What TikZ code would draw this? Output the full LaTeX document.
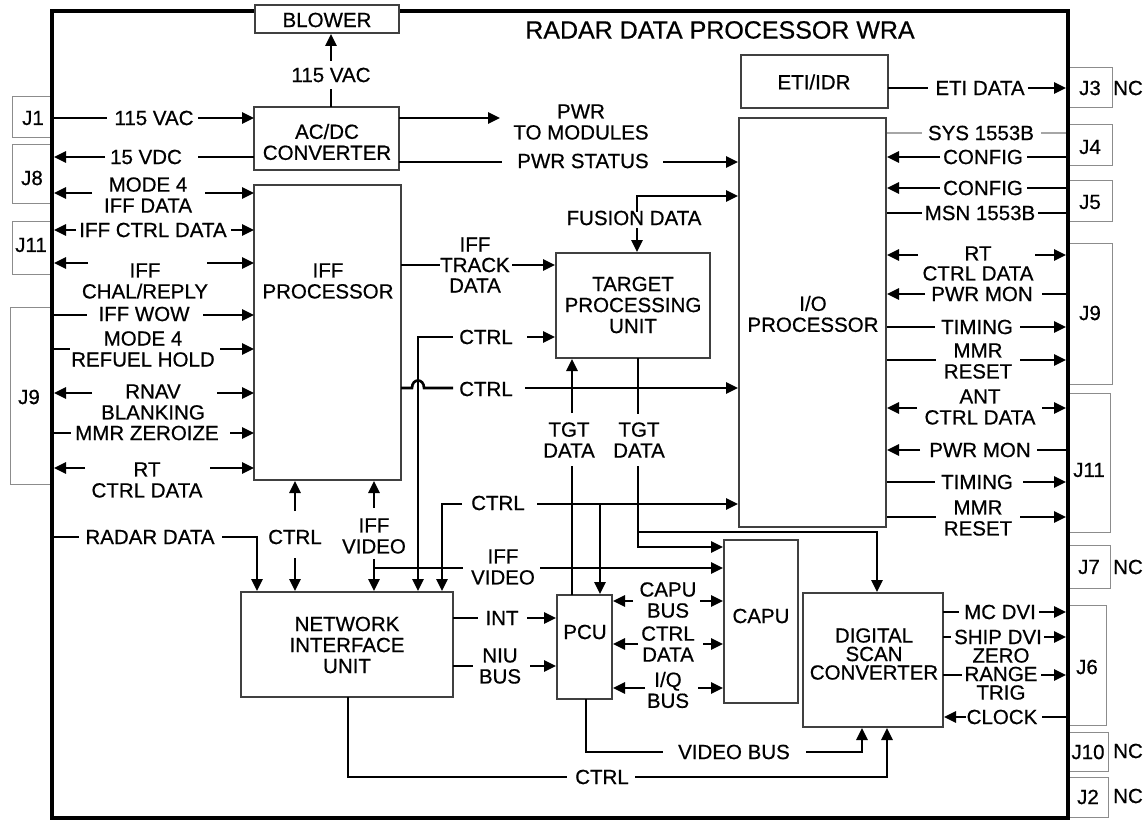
\documentclass[tikz,border=0pt]{standalone}
\usepackage{fontspec}
\setmainfont{Liberation Sans}[FakeBold=0.6]
\usetikzlibrary{arrows.meta}
\newcommand\lblfont{\fontsize{20.5}{21}\selectfont}
\newcommand\dscfont{\fontsize{20.5}{18.5}\selectfont}
\newcommand\ttlfont{\fontsize{25}{27}\selectfont}
\begin{document}
\begin{tikzpicture}[x=1pt,y=-1pt,
  conn/.style={line width=2.6pt,line join=miter},
  arr/.style={conn,-{Triangle[length=12pt,width=11pt]}},
  blk/.style={draw=black!75,line width=1.2pt,inner sep=0pt},
  jbox/.style={draw=black!45,line width=1pt,inner sep=0pt},
  lbl/.style={inner sep=0pt,align=center,font=\lblfont},
]
\useasboundingbox (0,0) rectangle (1148,821);
\fill[white] (0,0) rectangle (1148,821);

% ---------- connector boxes (outside frame)
\node[jbox,minimum width=40pt,minimum height=41pt] (j1) at (32,117.5) {};
\node[jbox,minimum width=40pt,minimum height=59pt] (j8) at (32,174.5) {};
\node[jbox,minimum width=40pt,minimum height=53pt] (j11l) at (32,247.5) {};
\node[jbox,minimum width=42pt,minimum height=177pt] (j9l) at (31,395.5) {};
\node[jbox,minimum width=44pt,minimum height=40pt] (j3) at (1090,88) {};
\node[jbox,minimum width=44pt,minimum height=41pt] (j4) at (1090,145.5) {};
\node[jbox,minimum width=44pt,minimum height=40pt] (j5) at (1090,201) {};
\node[jbox,minimum width=44pt,minimum height=141pt] (j9r) at (1090,313.5) {};
\node[jbox,minimum width=42pt,minimum height=139pt] (j11r) at (1089,462.5) {};
\node[jbox,minimum width=42pt,minimum height=43pt] (j7) at (1089,566.5) {};
\node[jbox,minimum width=38pt,minimum height=120pt] (j6) at (1087,665) {};
\node[jbox,minimum width=40pt,minimum height=39pt] (j10) at (1088,751.5) {};
\node[jbox,minimum width=40pt,minimum height=40pt] (j2) at (1088,797) {};

\node[lbl] (tj1) at (33,118) {J1};
\node[lbl] (tj8) at (32,178) {J8};
\node[lbl] (tj11l) at (31,245) {J11};
\node[lbl] (tj9l) at (29,397) {J9};
\node[lbl] (tj3) at (1090,88) {J3};
\node[lbl] (nc3) at (1128,88) {NC};
\node[lbl] (tj4) at (1090,147) {J4};
\node[lbl] (tj5) at (1090,202) {J5};
\node[lbl] (tj9r) at (1090,313) {J9};
\node[lbl] (tj11r) at (1089,470) {J11};
\node[lbl] (tj7) at (1089,567) {J7};
\node[lbl] (nc7) at (1128,567) {NC};
\node[lbl] (tj6) at (1087,667) {J6};
\node[lbl] (tj10) at (1088,752) {J10};
\node[lbl] (nc10) at (1128,751) {NC};
\node[lbl] (tj2) at (1088,797) {J2};
\node[lbl] (nc2) at (1128,796) {NC};

% ---------- WRA frame
\draw[line width=3.5pt] (52,11) rectangle (1068,818);
\node[font=\ttlfont,inner sep=0pt] (title) at (720,30) {RADAR DATA PROCESSOR WRA};

% ---------- module boxes
\node[blk,fill=white,minimum width=144pt,minimum height=28pt] (blower) at (327,19) {};
\node[lbl] (tblower) at (327,20) {BLOWER};
\node[blk,minimum width=145pt,minimum height=63pt] (acdc) at (326.5,138.5) {};
\node[lbl] (tacdc) at (327,142) {AC/DC\\CONVERTER};
\node[blk,minimum width=147pt,minimum height=295pt] (iff) at (327.5,332.5) {};
\node[lbl] (tiff) at (328,281) {IFF\\PROCESSOR};
\node[blk,minimum width=154pt,minimum height=105pt] (tpu) at (633,305.5) {};
\node[lbl] (ttpu) at (633,305) {TARGET\\PROCESSING\\UNIT};
\node[blk,minimum width=147pt,minimum height=53pt] (eti) at (814.5,81.5) {};
\node[lbl] (teti) at (814,82) {ETI/IDR};
\node[blk,minimum width=147pt,minimum height=409pt] (io) at (812.5,322.5) {};
\node[lbl] (tio) at (813,314) {I/O\\PROCESSOR};
\node[blk,minimum width=212pt,minimum height=105pt] (niu) at (347,644.5) {};
\node[lbl] (tniu) at (347,645) {NETWORK\\INTERFACE\\UNIT};
\node[blk,minimum width=55pt,minimum height=104pt] (pcu) at (584.5,647) {};
\node[lbl] (tpcu) at (585,632) {PCU};
\node[blk,minimum width=74pt,minimum height=163pt] (capu) at (761,621.5) {};
\node[lbl] (tcapu) at (761,616) {CAPU};
\node[blk,minimum width=140pt,minimum height=134pt] (dsc) at (873,660) {};
\node[lbl,font=\dscfont] (tdsc) at (874,654) {DIGITAL\\SCAN\\CONVERTER};

% ---------- power
\draw[conn] (331,107) -- (331,89);
\node[lbl] (lbv) at (331,75) {115 VAC};
\draw[arr] (331,61) -- (331,34);
\draw[arr] (399,118) -- (500,118);
\node[lbl] (lpwr) at (581,122) {PWR\\TO MODULES};
\draw[conn] (399,162) -- (502,162);
\node[lbl] (lpst) at (583,161) {PWR STATUS};
\draw[arr] (663,162) -- (738,162);

% ---------- left side signals
\draw[conn] (54,118) -- (107,118);
\node[lbl] (l115) at (154,118) {115 VAC};
\draw[arr] (198,118) -- (254,118);

\node[lbl] (l15) at (146,157) {15 VDC};
\draw[arr] (105,157) -- (54,157);
\draw[conn] (198,157) -- (254,157);

\node[lbl] (lm4) at (148,195) {MODE 4\\IFF DATA};
\draw[arr] (92,193) -- (54,193);
\draw[arr] (205,193) -- (254,193);

\node[lbl] (lictl) at (153,230) {IFF CTRL DATA};
\draw[arr] (76,230) -- (54,230);
\draw[arr] (231,230) -- (254,230);

\node[lbl] (lchal) at (145,281) {IFF\\CHAL/REPLY};
\draw[arr] (88,263) -- (54,263);
\draw[arr] (207,263) -- (254,263);

\node[lbl] (lwow) at (144,314) {IFF WOW};
\draw[conn] (54,315) -- (87,315);
\draw[arr] (203,315) -- (254,315);

\node[lbl] (lref) at (143,349) {MODE 4\\REFUEL HOLD};
\draw[conn] (54,349) -- (70,349);
\draw[arr] (220,349) -- (254,349);

\node[lbl] (lrnav) at (153,402) {RNAV\\BLANKING};
\draw[arr] (92,393) -- (54,393);
\draw[arr] (217,393) -- (254,393);

\node[lbl] (lmmrz) at (147,433) {MMR ZEROIZE};
\draw[conn] (54,433) -- (71,433);
\draw[arr] (230,433) -- (254,433);

\node[lbl] (lrt) at (147,480) {RT\\CTRL DATA};
\draw[arr] (85,468) -- (54,468);
\draw[arr] (210,468) -- (254,468);

\node[lbl] (lrad) at (150,537) {RADAR DATA};
\draw[conn] (54,537) -- (79,537);
\draw[arr] (222,537) -- (257,537) -- (257,591);

% ---------- IFF <-> NIU
\node[lbl] (lctrl1) at (295,537) {CTRL};
\draw[arr] (295,511) -- (295,481);
\draw[arr] (295,558) -- (295,591);

\node[lbl] (livid) at (374,536) {IFF\\VIDEO};
\draw[arr] (374,508) -- (374,481);
\draw[arr] (374,559) -- (374,591);
\draw[conn] (374,568) -- (463,568);
\node[lbl] (livid2) at (503,567) {IFF\\VIDEO};
\draw[arr] (540,568) -- (723,568);

% ---------- CTRL buses
\draw[arr] (453,337) -- (418,337) -- (418,591);
\node[lbl] (lctrl2) at (486,337) {CTRL};
\draw[arr] (527,337) -- (555,337);

\draw[conn] (401,388) -- (412,388) .. controls (412,378) and (424,378) .. (424,388) -- (453,388);
\node[lbl] (lctrl3) at (486,389) {CTRL};
\draw[arr] (525,388) -- (738,388);

\draw[arr] (462,504) -- (442,504) -- (442,591);
\node[lbl] (lctrl4) at (498,503) {CTRL};
\draw[arr] (537,504) -- (738,504);
\draw[arr] (600,504) -- (600,594);

% ---------- TPU
\draw[conn] (401,265) -- (440,265);
\node[lbl,font=\fontsize{20.5}{20.5}\selectfont] (ltrack) at (475,265) {IFF\\TRACK\\DATA};
\draw[arr] (512,265) -- (555,265);

\draw[arr] (637,212) -- (637,196) -- (738,196);
\node[lbl] (lfus) at (634,218) {FUSION DATA};
\draw[arr] (637,228) -- (637,252);

\draw[arr] (572,413) -- (572,359);
\node[lbl] (ltgt1) at (569,440) {TGT\\DATA};
\draw[conn] (572,466) -- (572,595);

\draw[conn] (638,358) -- (638,414);
\node[lbl] (ltgt2) at (639,440) {TGT\\DATA};
\draw[arr] (638,466) -- (638,547) -- (723,547);
\draw[arr] (638,532) -- (877,532) -- (877,592);

% ---------- NIU -> PCU
\draw[conn] (453,618) -- (478,618);
\node[lbl] (lint) at (502,618) {INT};
\draw[arr] (527,618) -- (556,618);
\draw[conn] (453,666) -- (473,666);
\node[lbl] (lniub) at (500,666) {NIU\\BUS};
\draw[arr] (530,666) -- (556,666);

% ---------- PCU <-> CAPU
\node[lbl] (lcapub) at (668,600) {CAPU\\BUS};
\draw[arr] (633,601) -- (613,601);
\draw[arr] (700,601) -- (723,601);
\node[lbl] (lctld) at (668,644) {CTRL\\DATA};
\draw[arr] (638,644) -- (613,644);
\draw[arr] (703,644) -- (723,644);
\node[lbl] (liq) at (668,690) {I/Q\\BUS};
\draw[arr] (645,688) -- (613,688);
\draw[arr] (698,688) -- (723,688);

% ---------- bottom buses to DSC
\draw[conn] (586,699) -- (586,752) -- (663,752);
\node[lbl] (lvbus) at (734,752) {VIDEO BUS};
\draw[arr] (806,752) -- (862,752) -- (862,728);
\draw[conn] (348,697) -- (348,777) -- (567,777);
\node[lbl] (lctrl5) at (602,777) {CTRL};
\draw[arr] (635,777) -- (887,777) -- (887,728);

% ---------- DSC outputs
\draw[conn] (943,612) -- (959,612);
\node[lbl] (lmcdvi) at (1000,612) {MC DVI};
\draw[arr] (1039,612) -- (1066,612);
\draw[conn] (943,637) -- (951,637);
\node[lbl] (lship) at (998,637) {SHIP DVI};
\draw[arr] (1044,637) -- (1066,637);
\draw[conn] (943,675) -- (962,675);
\node[lbl,font=\dscfont] (lzero) at (1001,674) {ZERO\\RANGE\\TRIG};
\draw[arr] (1041,675) -- (1066,675);
\draw[conn] (1066,717) -- (1042,717);
\node[lbl] (lclock) at (1002,717) {CLOCK};
\draw[arr] (966,717) -- (944,717);

% ---------- ETI / I/O right side
\draw[conn] (888,88) -- (928,88);
\node[lbl] (leti) at (980,88) {ETI DATA};
\draw[arr] (1028,88) -- (1066,88);

\draw[conn,draw=black!35] (887,133) -- (922,133);
\node[lbl] (lsys) at (981,133) {SYS 1553B};
\draw[conn,draw=black!35] (1041,133) -- (1066,133);

\draw[conn] (1066,157) -- (1027,157);
\node[lbl] (lcfg1) at (983,157) {CONFIG};
\draw[arr] (940,157) -- (887,157);

\draw[conn] (1066,188) -- (1027,188);
\node[lbl] (lcfg2) at (983,188) {CONFIG};
\draw[arr] (940,188) -- (887,188);

\draw[conn] (887,213) -- (922,213);
\node[lbl] (lmsn) at (980,213) {MSN 1553B};
\draw[conn] (1038,213) -- (1066,213);

\node[lbl,font=\fontsize{20.5}{20}\selectfont] (lrt2) at (978,263.5) {RT\\CTRL DATA};
\draw[arr] (918,255) -- (887,255);
\draw[arr] (1035,255) -- (1066,255);

\node[lbl] (lpm1) at (982,294) {PWR MON};
\draw[conn] (1066,294) -- (1042,294);
\draw[arr] (925,294) -- (887,294);

\draw[conn] (887,327) -- (935,327);
\node[lbl] (ltim1) at (977,327) {TIMING};
\draw[arr] (1020,327) -- (1066,327);

\draw[conn] (887,360) -- (936,360);
\node[lbl] (lmmr1) at (978,361) {MMR\\RESET};
\draw[arr] (1020,360) -- (1066,360);

\node[lbl] (lant) at (980,407) {ANT\\CTRL DATA};
\draw[arr] (917,408) -- (887,408);
\draw[arr] (1042,408) -- (1066,408);

\node[lbl] (lpm2) at (980,450) {PWR MON};
\draw[conn] (1066,450) -- (1037,450);
\draw[arr] (920,450) -- (887,450);

\draw[conn] (887,482) -- (935,482);
\node[lbl] (ltim2) at (977,482) {TIMING};
\draw[arr] (1023,482) -- (1066,482);

\draw[conn] (887,517) -- (936,517);
\node[lbl] (lmmr2) at (978,518) {MMR\\RESET};
\draw[arr] (1020,517) -- (1066,517);
\end{tikzpicture}
\end{document}
